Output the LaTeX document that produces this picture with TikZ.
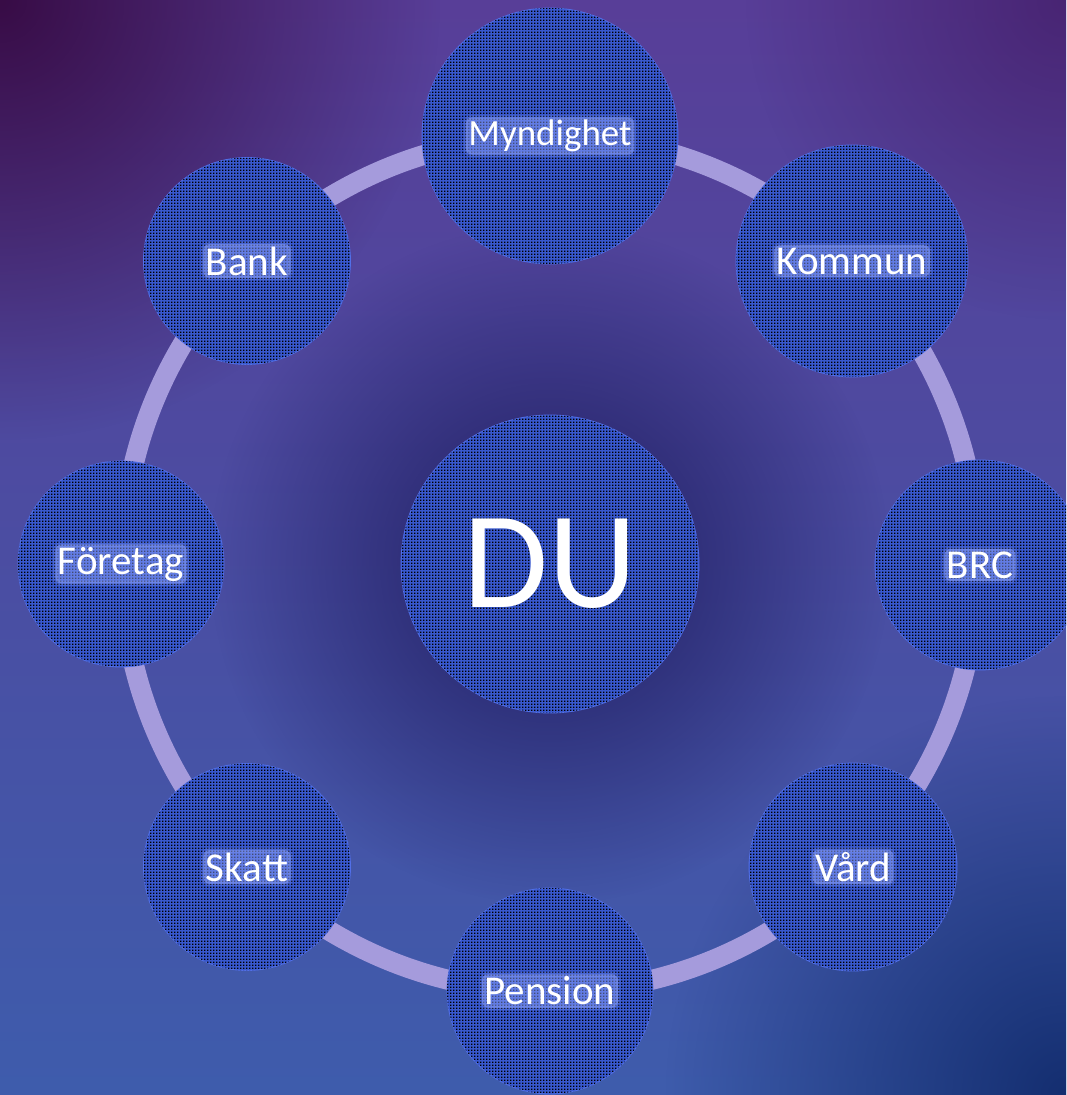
\documentclass[tikz,border=0pt]{standalone}
\usepackage{fontspec}
\setmainfont{Carlito}
\usetikzlibrary{patterns,fadings}
\pgfdeclarepatternformonly{mydots}{\pgfpointorigin}{\pgfpoint{3pt}{3pt}}{\pgfpoint{3pt}{3pt}}{\pgfpathrectangle{\pgfpointorigin}{\pgfpoint{1.8pt}{1.8pt}}\pgfusepath{fill}}
\tikzfading[name=softdisc, inner color=transparent!0, outer color=transparent!100]
\definecolor{bgtop}{RGB}{88,62,152}
\definecolor{bgbot}{RGB}{62,92,172}
\definecolor{cornerTL}{RGB}{56,12,70}
\definecolor{cornerTR}{RGB}{66,26,100}
\definecolor{cornerBR}{RGB}{20,46,112}
\definecolor{centerdark}{RGB}{30,28,95}
\definecolor{ringc}{RGB}{165,155,220}
\definecolor{bubblue}{RGB}{56,88,206}
\definecolor{edgeblue}{RGB}{82,112,232}
\definecolor{glowc}{RGB}{150,170,255}
\tikzset{
  bubble/.style={circle, fill=bubblue, draw=edgeblue, line width=0.8pt, inner sep=0pt,
    postaction={pattern=mydots, pattern color=black}},
  lab/.style={text=white, font=\fontsize{41}{41}\selectfont, fill=glowc, fill opacity=0.45,
    text opacity=1, rounded corners=6pt, inner sep=2.5pt,
    preaction={draw=glowc, line width=5pt, draw opacity=0.18}},
  bigtext/.style={text=white, font=\fontsize{138}{138}\selectfont},
  ring/.style={draw=ringc, line width=20pt}
}
\begin{document}
\begin{tikzpicture}[x=1pt, y=-1pt]
\useasboundingbox (0,0) rectangle (1066,1095);
\clip (0,0) rectangle (1066,1095);
% background
\shade[top color=bgtop, bottom color=bgbot] (0,0) rectangle (1066,1095);
\fill[cornerTL, path fading=softdisc] (0,0) circle (440pt);
\fill[cornerTR, path fading=softdisc, opacity=0.7] (1066,0) circle (320pt);
\fill[cornerBR, path fading=softdisc] (1066,1095) circle (400pt);
\fill[centerdark, path fading=softdisc] (550,564) circle (340pt);
% centre node
\node[bubble, bigtext, minimum size=298pt] (du) at (550,564) {DU};
% ring
\draw[ring] (du.center) circle (428pt);
% outer nodes
\node[bubble, minimum size=256pt, label={[lab, font=\fontsize{37}{37}\selectfont]center:Myndighet}] (myn) at (550,136) {};
\node[bubble, minimum size=232pt, label={[lab]center:Kommun}] (kom) at (852,261) {};
\node[bubble, minimum size=210pt, label={[lab]center:BRC}] (brc) at (980,565) {};
\node[bubble, minimum size=208pt, label={[lab]center:Vård}] (vard) at (853,867) {};
\node[bubble, minimum size=206pt, label={[lab]center:Pension}] (pen) at (550,991) {};
\node[bubble, minimum size=207pt, label={[lab]center:Skatt}] (skatt) at (247,867) {};
\node[bubble, minimum size=206pt, label={[lab]center:Företag}] (for) at (121,564) {};
\node[bubble, minimum size=207pt, label={[lab]center:Bank}] (bank) at (247,261) {};
\end{tikzpicture}
\end{document}
